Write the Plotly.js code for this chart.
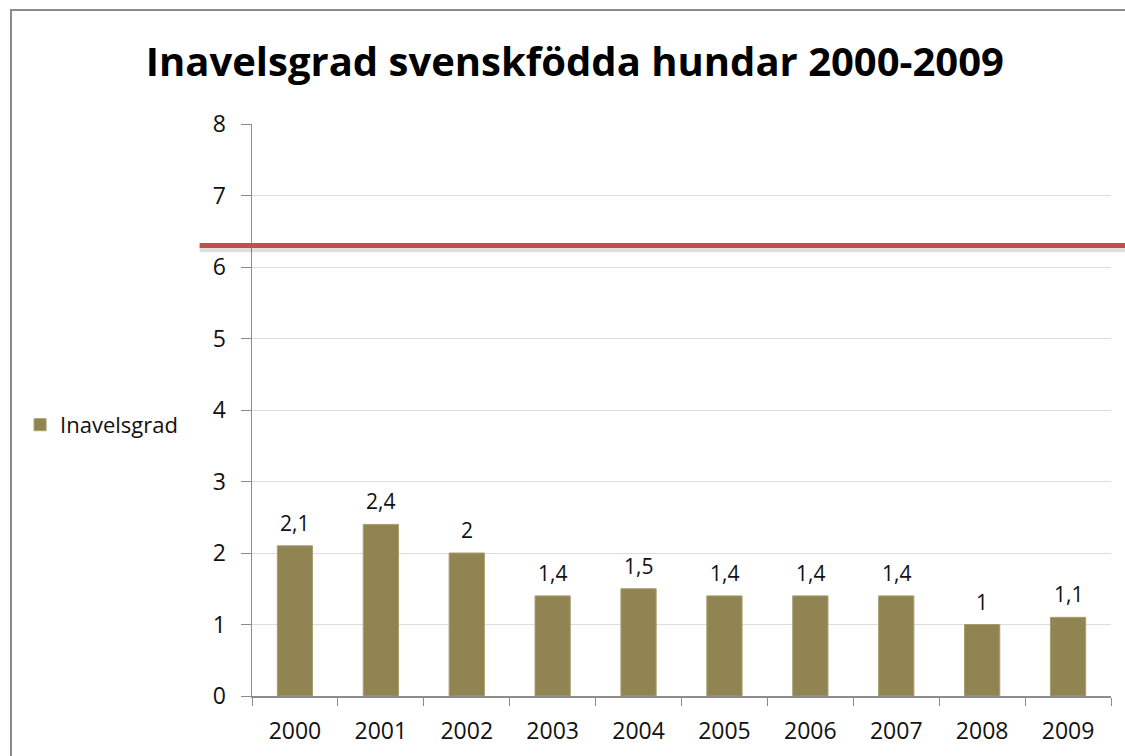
<!DOCTYPE html>
<html><head><meta charset="utf-8">
<script src="https://cdn.plot.ly/plotly-3.0.1.min.js"></script>
<style>
html,body{margin:0;padding:0;background:#fff;overflow:hidden;}
#frame{position:absolute;left:10px;top:9px;width:1200px;height:800px;border:2px solid #8a8a8a;box-sizing:border-box;}
#chart{position:absolute;left:0;top:0;width:1125px;height:756px;}
</style></head>
<body>
<div id="frame"></div>
<div id="chart"></div>
<script>
const years = ['2000','2001','2002','2003','2004','2005','2006','2007','2008','2009'];
const inavelsgrad = [2.1, 2.4, 2.0, 1.4, 1.5, 1.4, 1.4, 1.4, 1.0, 1.1];
const thresholdValue = 6.3;

const labels = inavelsgrad.map(v => String(v).replace('.', ','));

const trace = {
  type: 'bar', x: years, y: inavelsgrad, name: 'Inavelsgrad',
  marker: {color: '#8f8452', line: {color: '#a79d6a', width: 1}},
  hoverinfo: 'skip'
};

// annotation x given as the category index on the category axis
const annotations = years.map((yr, i) => ({
  x: i, y: inavelsgrad[i], xref: 'x', yref: 'y', text: labels[i], showarrow: false,
  yanchor: 'bottom', yshift: 7, font: {size: 21, color: '#111', family: 'Open Sans, sans-serif'}
}));

const layout = {
  width: 1125, height: 756,
  paper_bgcolor: 'rgba(0,0,0,0)', plot_bgcolor: 'rgba(0,0,0,0)',
  margin: {l: 252, r: 14, t: 124, b: 60},
  font: {family: 'Open Sans, sans-serif', color: '#111'},
  title: {text: '<b>Inavelsgrad svenskfödda hundar 2000-2009</b>', x: 0.511, xanchor: 'center', y: 0.918, yanchor: 'middle',
          font: {size: 40, color: '#000', family: 'Open Sans, sans-serif'}},
  bargap: 0.59,
  showlegend: true,
  legend: {x: -0.27, xanchor: 'left', y: 0.474, yanchor: 'middle', font: {size: 22, color: '#111'}, bgcolor: 'rgba(0,0,0,0)'},
  xaxis: {type: 'category', categoryarray: years, categoryorder: 'array', range: [-0.5, years.length - 0.5],
          showline: true, linecolor: '#8c8c8c', linewidth: 1.5, ticks: 'outside', tickson: 'boundaries',
          ticklen: 8, tickcolor: '#8c8c8c', tickfont: {size: 23, color: '#111'}, showgrid: false, ticklabelstandoff: 14},
  yaxis: {range: [0, 8], dtick: 1, showline: true, linecolor: '#8c8c8c', linewidth: 1.5, ticks: 'outside', ticklen: 10,
          tickcolor: '#8c8c8c', tickfont: {size: 23, color: '#111'}, gridcolor: '#dcdcdc', gridwidth: 1, zeroline: false,
          ticklabelstandoff: 10},
  annotations: annotations,
  shapes: [
    {type: 'line', xref: 'paper', yref: 'y', x0: -0.061, x1: 1.02, y0: thresholdValue - 0.05, y1: thresholdValue - 0.05,
     line: {color: 'rgba(0,0,0,0.12)', width: 6}},
    {type: 'line', xref: 'paper', yref: 'y', x0: -0.061, x1: 1.02, y0: thresholdValue, y1: thresholdValue,
     line: {color: '#c0504d', width: 5}}
  ]
};

Plotly.newPlot('chart', [trace], layout, {displayModeBar: false, staticPlot: true});
</script>
</body></html>
